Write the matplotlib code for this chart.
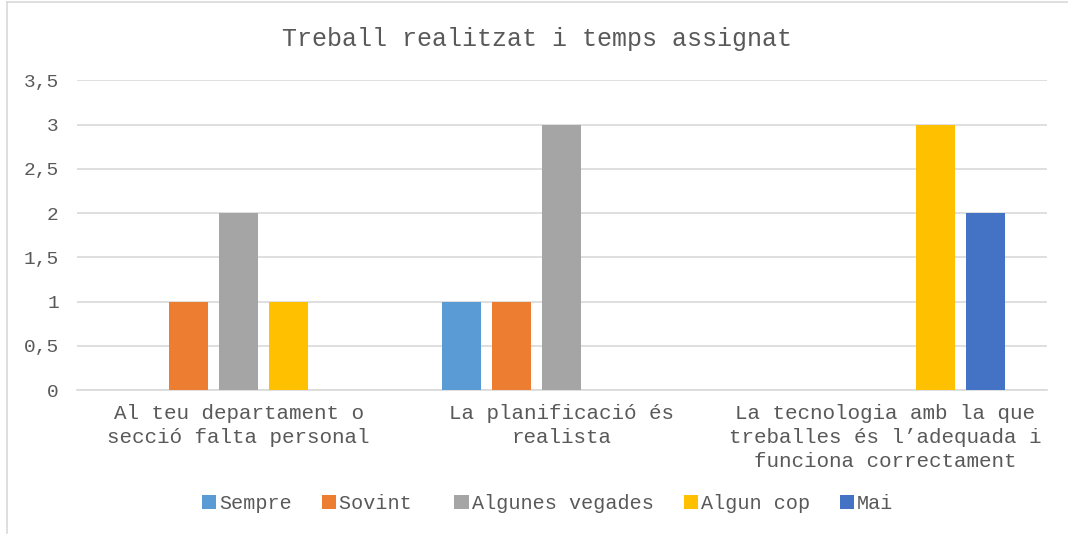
import numpy as np
import matplotlib.pyplot as plt
from matplotlib.lines import Line2D

categories = [
    "Al teu departament o\nsecció falta personal",
    "La planificació és\nrealista",
    "La tecnologia amb la que\ntreballes és l\u2019adequada i\nfunciona correctament",
]
series_names = ["Sempre", "Sovint ", "Algunes vegades", "Algun cop", "Mai"]
sempre = [0, 1, 0]
sovint = [1, 1, 0]
algunes = [2, 3, 0]
algun_cop = [1, 0, 3]
mai = [0, 0, 2]
colors = ["#5b9bd5", "#ed7d31", "#a5a5a5", "#ffc000", "#4472c4"]
yticks = [0, 0.5, 1, 1.5, 2, 2.5, 3, 3.5]
ytick_labels = ["0", "0,5", "1", "1,5", "2", "2,5", "3", "3,5"]

plt.rcParams['font.family'] = ['Liberation Mono', 'DejaVu Sans Mono']
text_col = "#595959"

fig = plt.figure(figsize=(10.68, 5.35), dpi=100)
ax = fig.add_axes([0.072, 0.271, 0.908, 0.579])

x = np.arange(len(categories))
step = 0.1548
width = 0.1207
all_series = [sempre, sovint, algunes, algun_cop, mai]
for i, vals in enumerate(all_series):
    ax.bar(x + (i - 2) * step, vals, width, color=colors[i],
           label=series_names[i], zorder=3)

ax.set_xlim(-0.5, 2.5)
ax.set_ylim(0, 3.5)
ax.set_yticks(yticks)
ax.set_yticklabels(ytick_labels, fontsize=14, color=text_col)
ax.set_xticks(x)
ax.set_xticklabels(categories, fontsize=15, color=text_col, linespacing=1.35)
ax.tick_params(axis='x', length=0, pad=10)
ax.tick_params(axis='y', length=0, pad=13)
ax.grid(axis='y', color="#d9d9d9", linewidth=1.2, zorder=0)
for s in ['top', 'right', 'left']:
    ax.spines[s].set_visible(False)
ax.spines['bottom'].set_color("#d9d9d9")
ax.spines['bottom'].set_linewidth(1.2)

fig.text(0.503, 0.928, "Treball realitzat i temps assignat", ha='center',
         va='center', fontsize=18, color=text_col)

leg = fig.legend(loc='center', bbox_to_anchor=(0.513, 0.058), ncol=5,
                 frameon=False, fontsize=14.5, handlelength=0.7,
                 handleheight=0.7, handletextpad=0.15, columnspacing=1.5)
for t in leg.get_texts():
    t.set_color(text_col)

# chart-area border (left and top visible in the reference)
fig.add_artist(Line2D([0.0066, 0.0066], [0.003, 0.996], color="#d9d9d9",
                      linewidth=1.2, transform=fig.transFigure))
fig.add_artist(Line2D([0.0066, 1.0], [0.996, 0.996], color="#d9d9d9",
                      linewidth=1.2, transform=fig.transFigure))

fig.savefig("out.png", dpi=100)
